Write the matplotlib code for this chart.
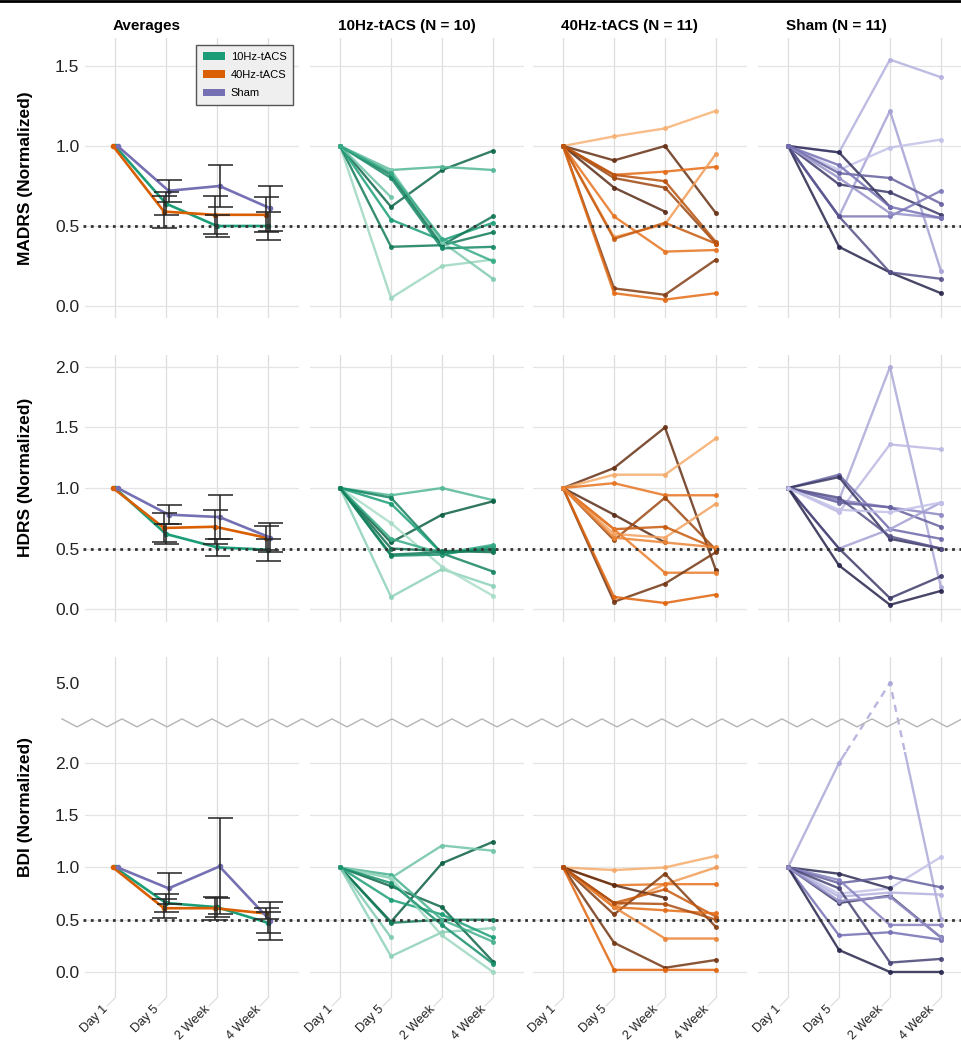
import numpy as np
import matplotlib
matplotlib.use('Agg')
import matplotlib.pyplot as plt
from matplotlib.colors import LinearSegmentedColormap
from matplotlib.patches import Patch, Rectangle
from matplotlib.lines import Line2D
import matplotlib.transforms as mtrans

plt.rcParams['font.family'] = ['Liberation Sans', 'DejaVu Sans']

nan = np.nan
timepoints = ['Day 1', 'Day 5', '2 Week', '4 Week']
groups = ['10Hz-tACS', '40Hz-tACS', 'Sham']
group_n = [10, 11, 11]
scales = ['MADRS', 'HDRS', 'BDI']

# ---- group averages (mean, error) ----
madrs_mean_10 = [1.00, 0.64, 0.50, 0.50]
madrs_err_10 = [0.00, 0.07, 0.07, 0.09]
madrs_mean_40 = [1.00, 0.59, 0.57, 0.57]
madrs_err_40 = [0.00, 0.10, 0.12, 0.11]
madrs_mean_sh = [1.00, 0.72, 0.75, 0.61]
madrs_err_sh = [0.00, 0.07, 0.13, 0.14]

hdrs_mean_10 = [1.00, 0.62, 0.51, 0.49]
hdrs_err_10 = [0.00, 0.08, 0.07, 0.09]
hdrs_mean_40 = [1.00, 0.67, 0.68, 0.59]
hdrs_err_40 = [0.00, 0.12, 0.14, 0.10]
hdrs_mean_sh = [1.00, 0.78, 0.76, 0.59]
hdrs_err_sh = [0.00, 0.08, 0.18, 0.12]

bdi_mean_10 = [1.00, 0.66, 0.62, 0.47]
bdi_err_10 = [0.00, 0.09, 0.09, 0.10]
bdi_mean_40 = [1.00, 0.61, 0.61, 0.56]
bdi_err_40 = [0.00, 0.09, 0.11, 0.05]
bdi_mean_sh = [1.00, 0.80, 1.01, 0.49]
bdi_err_sh = [0.00, 0.15, 0.46, 0.18]

# ---- individual subjects ----
madrs_10 = [[1, 0.62, 0.85, 0.97], [1, 0.85, 0.87, 0.85], [1, 0.05, 0.25, 0.29],
            [1, 0.37, 0.38, 0.46], [1, 0.54, 0.41, 0.52], [1, 0.82, 0.38, 0.56],
            [1, 0.85, 0.40, 0.17], [1, 0.68, nan, nan], [1, 0.80, 0.36, 0.37],
            [1, 0.83, 0.42, 0.28]]
madrs_40 = [[1, 1.06, 1.11, 1.22], [1, 0.91, 1.00, 0.58], [1, 0.82, 0.84, 0.87],
            [1, 0.80, 0.74, 0.39], [1, 0.74, 0.59, nan], [1, 0.43, 0.51, 0.95],
            [1, 0.56, 0.34, 0.35], [1, 0.11, 0.07, 0.29], [1, 0.08, 0.04, 0.08],
            [1, 0.42, 0.52, 0.39], [1, 0.82, 0.78, 0.40]]
madrs_sh = [[1, 0.96, 1.54, 1.43], [1, 0.56, 1.22, 0.22], [1, 0.85, 0.99, 1.04],
            [1, 0.96, 0.62, nan], [1, 0.76, 0.71, 0.57], [1, 0.83, 0.80, 0.64],
            [1, 0.56, 0.56, 0.72], [1, 0.80, 0.58, 0.55], [1, 0.37, 0.21, 0.08],
            [1, 0.56, 0.21, 0.17], [1, 0.88, 0.62, 0.55]]

hdrs_10 = [[1, 0.94, 1.00, 0.90], [1, 0.55, 0.78, 0.89], [1, 0.10, 0.33, 0.19],
           [1, 0.71, 0.35, 0.11], [1, 0.92, 0.46, 0.31], [1, 0.87, 0.46, 0.50],
           [1, 0.50, 0.48, 0.47], [1, 0.44, 0.45, 0.52], [1, 0.58, 0.46, 0.53],
           [1, 0.45, 0.47, 0.49]]
hdrs_40 = [[1, 1.165, 1.50, 0.32], [1, 1.11, 1.11, 1.41], [1, 1.04, 0.94, 0.94],
           [1, 0.78, 0.55, nan], [1, 0.57, 0.92, 0.49], [1, 0.62, 0.59, 0.87],
           [1, 0.66, 0.68, 0.50], [1, 0.66, 0.30, 0.30], [1, 0.06, 0.21, 0.47],
           [1, 0.10, 0.05, 0.12], [1, 0.59, 0.55, 0.51]]
hdrs_sh = [[1, 0.90, 2.00, 0.18], [1, 0.80, 1.36, 1.32], [1, 1.11, 0.66, 0.58],
           [1, 1.09, 0.58, 0.50], [1, 0.90, 0.84, 0.78], [1, 0.88, 0.84, 0.68],
           [1, 0.50, 0.66, 0.88], [1, 0.50, 0.09, 0.27], [1, 0.36, 0.035, 0.15],
           [1, 0.92, 0.60, 0.50], [1, 0.82, 0.80, 0.88]]

bdi_10 = [[1, 0.48, 1.04, 1.245], [1, 0.90, 1.21, 1.16], [1, 0.15, 0.38, 0.42],
          [1, 0.82, 0.62, 0.10], [1, 0.47, 0.50, 0.50], [1, 0.69, 0.55, 0.33],
          [1, 0.93, 0.50, 0.29], [1, 0.90, 0.35, 0.00], [1, 0.33, nan, nan],
          [1, 0.85, 0.45, 0.08]]
bdi_40 = [[1, 0.975, 1.00, 1.11], [1, 0.62, 0.84, 1.00], [1, 0.83, 0.84, 0.84],
          [1, 0.83, 0.71, nan], [1, 0.55, 0.94, 0.43], [1, 0.66, 0.79, 0.53],
          [1, 0.62, 0.59, 0.56], [1, 0.62, 0.32, 0.32], [1, 0.28, 0.04, 0.115],
          [1, 0.02, 0.02, 0.02], [1, 0.66, 0.65, 0.50]]
bdi_sh = [[1, 2.00, 5.00, 0.51], [1, 0.75, 0.80, 1.10], [1, 0.94, 0.80, nan],
          [1, 0.66, 0.73, 0.33], [1, 0.85, 0.91, 0.81], [1, 0.72, 0.76, 0.74],
          [1, 0.88, 0.45, 0.45], [1, 0.35, 0.38, 0.31], [1, 0.21, 0.00, 0.00],
          [1, 0.80, 0.09, 0.125], [1, 0.68, 0.72, 0.33]]

# shade (0 light -> 1 dark) of each subject line
shade_10 = {'MADRS': [0.9, 0.3, 0.05, 0.75, 0.5, 0.8, 0.15, 0.2, 0.65, 0.4],
            'HDRS': [0.3, 0.95, 0.1, 0.0, 0.7, 0.5, 0.85, 0.6, 0.4, 0.75],
            'BDI': [0.95, 0.2, 0.1, 0.9, 0.75, 0.5, 0.35, 0.05, 0.15, 0.6]}
shade_40 = {'MADRS': [0.0, 0.95, 0.45, 0.75, 1.0, 0.15, 0.4, 0.85, 0.45, 0.6, 0.65],
            'HDRS': [0.95, 0.05, 0.4, 1.0, 0.75, 0.1, 0.6, 0.35, 0.9, 0.5, 0.3],
            'BDI': [0.05, 0.15, 0.4, 1.0, 0.85, 0.6, 0.45, 0.3, 0.9, 0.5, 0.7]}
shade_sh = {'MADRS': [0.1, 0.2, 0.0, 0.95, 0.85, 0.6, 0.45, 0.3, 1.0, 0.7, 0.5],
            'HDRS': [0.15, 0.05, 0.55, 0.9, 0.35, 0.6, 0.2, 0.85, 1.0, 0.7, 0.0],
            'BDI': [0.15, 0.0, 0.95, 0.85, 0.6, 0.1, 0.4, 0.5, 1.0, 0.8, 0.3]}

means = {'MADRS': [madrs_mean_10, madrs_mean_40, madrs_mean_sh],
         'HDRS': [hdrs_mean_10, hdrs_mean_40, hdrs_mean_sh],
         'BDI': [bdi_mean_10, bdi_mean_40, bdi_mean_sh]}
errs = {'MADRS': [madrs_err_10, madrs_err_40, madrs_err_sh],
        'HDRS': [hdrs_err_10, hdrs_err_40, hdrs_err_sh],
        'BDI': [bdi_err_10, bdi_err_40, bdi_err_sh]}
subjects = {'MADRS': [madrs_10, madrs_40, madrs_sh],
            'HDRS': [hdrs_10, hdrs_40, hdrs_sh],
            'BDI': [bdi_10, bdi_40, bdi_sh]}
shades = [shade_10, shade_40, shade_sh]

# ---- styles ----
base_colors = ['#1b9e77', '#d95f02', '#7570b3']
cmaps = [LinearSegmentedColormap.from_list('g', ['#a9ddc8', '#1b9e77', '#0c5a3e']),
         LinearSegmentedColormap.from_list('o', ['#f7b274', '#e2640c', '#5a2c16']),
         LinearSegmentedColormap.from_list('p', ['#c3c1e8', '#7570b3', '#28264c'])]
dodge = [0.0, -0.04, 0.05]
grid_c = '#dedede'

W, H = 962, 1040
fig = plt.figure(figsize=(W / 100, H / 100), dpi=100)

col_left = [85, 310, 533, 758]
col_w = 214
row_top = [38, 355, 657]
row_bot = [318, 622, 998]
ylims = [(-0.075, 1.675), (-0.107, 2.099), (-0.249, 6.69)]
hgrid = [[0, 0.5, 1, 1.5], [0, 0.5, 1, 1.5, 2], [0, 0.5, 1, 1.5, 2]]
yticks = [[0, 0.5, 1, 1.5], [0, 0.5, 1, 1.5, 2], [0, 0.5, 1, 1.5, 2, 5]]
ylabel_y = [0.5, 0.54, 0.56]

# broken axis scale for BDI
brk = 2.383
sq = 0.1464


def fwd(y):
    y = np.asarray(y, dtype=float)
    return np.where(y <= brk, y, brk + (y - brk) * sq)


def inv(t):
    t = np.asarray(t, dtype=float)
    return np.where(t <= brk, t, brk + (t - brk) / sq)


x = np.arange(len(timepoints))
axes = {}
for r, sc in enumerate(scales):
    for c in range(4):
        ax = fig.add_axes([col_left[c] / W, 1 - row_bot[r] / H, col_w / W,
                           (row_bot[r] - row_top[r]) / H])
        axes[(r, c)] = ax
        if r == 2:
            ax.set_yscale('function', functions=(fwd, inv))
        ax.set_xlim(-0.59, 3.61)
        ax.set_ylim(*ylims[r])
        for s in ax.spines.values():
            s.set_visible(False)
        ax.tick_params(length=0)
        for xv in x:
            ax.axvline(xv, color=grid_c, lw=0.9, zorder=0)
        for yv in hgrid[r]:
            ax.axhline(yv, color='#e4e4e4', lw=0.9, zorder=0)
        ax.set_xticks([])
        if c == 0:
            ax.set_yticks(yticks[r])
            ax.set_yticklabels([f'{v:.1f}' for v in yticks[r]], fontsize=12.5, color='#222')
            ax.tick_params(axis='y', pad=4)
            ax.set_ylabel(f'{sc} (Normalized)', fontsize=12.5, fontweight='bold')
        else:
            ax.set_yticks([])
        ax.yaxis.set_minor_locator(matplotlib.ticker.NullLocator())

        if c == 0:
            for g in range(3):
                m = means[sc][g]
                e = errs[sc][g]
                ax.plot(x + dodge[g], m, color=base_colors[g], lw=1.9, marker='o', ms=3,
                        zorder=3)
                ax.errorbar(x[1:] + dodge[g], m[1:], yerr=e[1:], fmt='none', ecolor='#222',
                            elinewidth=1.1, capsize=9, capthick=1.1, zorder=4)
        else:
            g = c - 1
            data = subjects[sc][g]
            for i, row in enumerate(data):
                col = cmaps[g](shades[g][sc][i])
                if r == 2:
                    ln, = ax.plot(x, row, color=col, lw=1.7, alpha=0.85, marker='o', ms=2.6,
                                  solid_capstyle='round', zorder=2)
                    lo = Rectangle((-1, -1), 6, 1 + 2.1, transform=ax.transData)
                    ln.set_clip_path(lo)
                    if np.nanmax(row) > 2.1:
                        ld, = ax.plot(x, row, color=col, lw=1.7, alpha=0.85, marker='o',
                                      ms=2.6, ls=(0, (3, 2.5)), zorder=2)
                        hi = Rectangle((-1, 2.1), 6, 10, transform=ax.transData)
                        ld.set_clip_path(hi)
                else:
                    ax.plot(x, row, color=col, lw=1.7, alpha=0.85, marker='o', ms=2.6,
                            solid_capstyle='round', zorder=2)

        if r == 0:
            ttl = 'Averages' if c == 0 else f'{groups[c - 1]} (N = {group_n[c - 1]})'
            ax.annotate(ttl, xy=(0, 1), xycoords=('data', 'axes fraction'),
                        xytext=(-2, 8), textcoords='offset pixels', ha='left',
                        va='baseline', fontsize=11, fontweight='bold')
        if r == 2:
            for xv, lab in zip(x, timepoints):
                ax.annotate('', xy=(xv, 0), xycoords=('data', 'axes fraction'),
                            xytext=(-8, -8), textcoords='offset pixels',
                            arrowprops=dict(arrowstyle='-', color=grid_c, lw=0.9,
                                            shrinkA=0, shrinkB=0))
                ax.annotate(lab, xy=(xv, 0), xycoords=('data', 'axes fraction'),
                            xytext=(-9, -9), textcoords='offset pixels',
                            rotation=45, rotation_mode='anchor', ha='right',
                            va='center', fontsize=9.2, color='#222')

for r in range(3):
    axes[(r, 0)].yaxis.set_label_coords(-0.245, ylabel_y[r])

# legend
handles = [Patch(facecolor=base_colors[g], label=groups[g]) for g in range(3)]
axes[(0, 0)].legend(handles=handles, loc='upper left', bbox_to_anchor=(0.52, 0.975),
                    fontsize=8, frameon=True, fancybox=False, edgecolor='#555555',
                    facecolor='#efefef', framealpha=1, handlelength=2.0,
                    handleheight=0.7, borderpad=0.6, labelspacing=0.75,
                    handletextpad=0.5, borderaxespad=0)

# dotted reference line at 0.5 across each row
for r in range(3):
    tr = mtrans.blended_transform_factory(fig.transFigure, axes[(r, 0)].transData)
    fig.add_artist(Line2D([83 / W, 1.0], [0.5, 0.5], transform=tr, color='#333333',
                          lw=2.0, ls=':', zorder=5))

# zig-zag axis break for BDI row
yb = axes[(2, 0)].transData.transform((0, brk))[1]
zx = np.arange(62, W + 15, 15)
zy = yb + 4 * np.where(np.arange(len(zx)) % 2 == 0, 1, -1)
fig.add_artist(Line2D(zx / W, zy / H, transform=fig.transFigure, color='#b5b5b5', lw=1.0))

# top border
fig.add_artist(Line2D([0, 1], [1 - 1.2 / H, 1 - 1.2 / H], transform=fig.transFigure,
                      color='black', lw=2))

fig.savefig('out.png', dpi=100)
